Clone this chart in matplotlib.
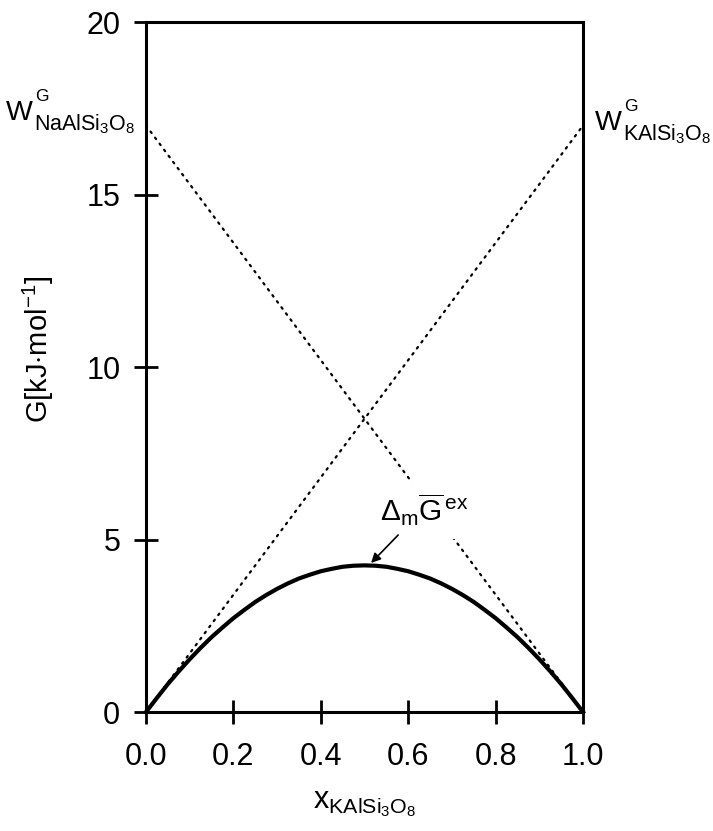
import matplotlib
matplotlib.use('Agg')
import matplotlib.pyplot as plt

plt.rcParams['font.family'] = ['Liberation Sans', 'DejaVu Sans']
plt.rcParams['mathtext.fontset'] = 'custom'
plt.rcParams['mathtext.rm'] = 'Liberation Sans'
plt.rcParams['mathtext.it'] = 'Liberation Sans'
plt.rcParams['mathtext.bf'] = 'Liberation Sans:bold'

# excess Gibbs energy curve
x_mix = [0.0, 0.025, 0.05, 0.075, 0.1, 0.125, 0.15, 0.175, 0.2, 0.225,
         0.25, 0.275, 0.3, 0.325, 0.35, 0.375, 0.4, 0.425, 0.45, 0.475,
         0.5, 0.525, 0.55, 0.575, 0.6, 0.625, 0.65, 0.675, 0.7, 0.725,
         0.75, 0.775, 0.8, 0.825, 0.85, 0.875, 0.9, 0.925, 0.95, 0.975, 1.0]
g_ex = [0.0, 0.41, 0.81, 1.18, 1.53, 1.86, 2.17, 2.45, 2.72, 2.96,
        3.19, 3.39, 3.57, 3.73, 3.87, 3.98, 4.08, 4.15, 4.21, 4.24,
        4.25, 4.24, 4.21, 4.15, 4.08, 3.98, 3.87, 3.73, 3.57, 3.39,
        3.19, 2.96, 2.72, 2.45, 2.17, 1.86, 1.53, 1.18, 0.81, 0.41, 0.0]

# limiting tangents (Margules parameters)
x_ends = [0.0, 1.0]
w_na_line = [17.0, 0.0]
w_k_line = [0.0, 17.0]

xticks = [0.0, 0.2, 0.4, 0.6, 0.8, 1.0]
xticklabels = ['0.0', '0.2', '0.4', '0.6', '0.8', '1.0']
yticks = [0, 5, 10, 15, 20]

fig = plt.figure(figsize=(7.13, 8.31), dpi=100)
ax = fig.add_axes([0.2048, 0.1432, 0.6129, 0.8303])

dots = (0, (0.8, 2.6))
ax.plot(x_ends, w_na_line, color='black', lw=1.6, ls=dots,
        dash_capstyle='round', zorder=2)
ax.plot(x_ends, w_k_line, color='black', lw=1.6, ls=dots,
        dash_capstyle='round', zorder=2)
ax.plot(x_mix, g_ex, color='black', lw=3.0, zorder=3, clip_on=False)

# label for the curve, white box breaks the dotted line behind it
ax.text(0.636, 5.85, r'$\Delta_{\mathrm{m}}\overline{\mathrm{G}}^{\,\mathrm{ex}}$',
        ha='center', va='center', fontsize=21.5, zorder=4,
        bbox=dict(boxstyle='square,pad=0.35', fc='white', ec='none'))
ax.annotate('', xy=(0.515, 4.32), xytext=(0.577, 5.13), zorder=5,
            arrowprops=dict(arrowstyle='-|>', color='black', lw=1.2,
                            mutation_scale=14, shrinkA=0, shrinkB=0))


def w_label(x, y, sub):
    # W with superscript G and a chemical-formula subscript
    w = ax.text(x, y, 'W', transform=ax.get_yaxis_transform(), fontsize=20.5,
                ha='left', va='baseline', clip_on=False)
    ax.annotate('G', xy=(1, y), xycoords=(w, 'data'), xytext=(1.5, 14),
                textcoords='offset points', fontsize=12.5, ha='left', va='baseline')
    ax.annotate(sub, xy=(1, y), xycoords=(w, 'data'), xytext=(1, -7.5),
                textcoords='offset points', fontsize=15.5, ha='left', va='baseline')


w_label(-0.320, 17.16, r'NaAlSi$_3$O$_8$')
w_label(1.027, 16.87, r'KAlSi$_3$O$_8$')

ax.set_xlim(0, 1)
ax.set_ylim(0, 20)
ax.set_xticks(xticks)
ax.set_xticklabels(xticklabels)
ax.set_yticks(yticks)

for s in ax.spines.values():
    s.set_linewidth(2.2)
ax.tick_params(direction='inout', length=17, width=2.0, labelsize=22, pad=10)
ax.tick_params(axis='x', pad=13)

ax.set_xlabel(r'x$_{\mathrm{KAlSi_3O_8}}$', fontsize=22)
ax.xaxis.set_label_coords(0.5, -0.112)
ax.set_ylabel(r'G[kJ$\cdot$mol$^{\mathrm{-1}}$]', fontsize=21)
ax.yaxis.set_label_coords(-0.205, 0.525)

fig.savefig('out.png', dpi=100)
